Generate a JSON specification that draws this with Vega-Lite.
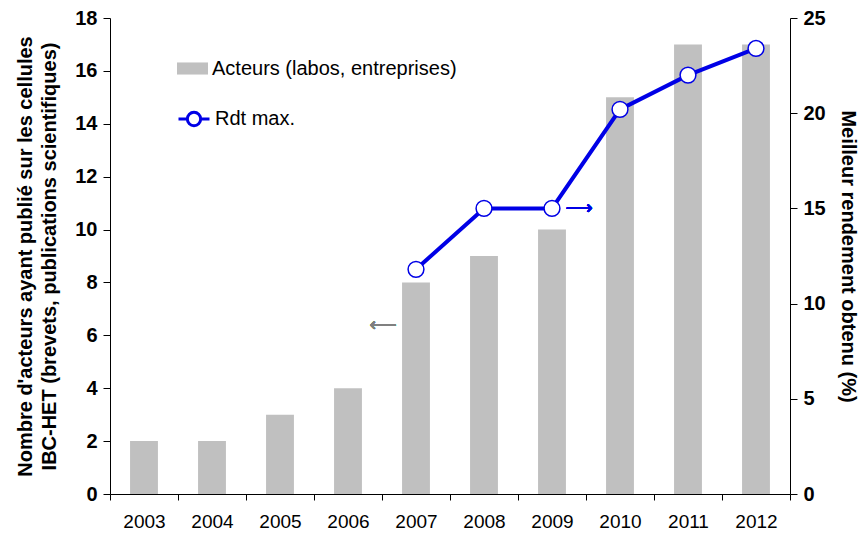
{
  "$schema": "https://vega.github.io/schema/vega-lite/v6.json",
  "width": 680,
  "height": 476,
  "autosize": {"type": "none"},
  "padding": {"left": 110, "top": 18, "right": 71, "bottom": 39},
  "background": "white",
  "config": {
    "view": {"stroke": null},
    "font": "Liberation Sans",
    "axis": {"domainColor": "black", "tickColor": "black", "labelColor": "black", "titleColor": "black", "grid": false}
  },
  "data": {
    "values": [
      {"year": "2003", "acteurs": 2, "rdt": null},
      {"year": "2004", "acteurs": 2, "rdt": null},
      {"year": "2005", "acteurs": 3, "rdt": null},
      {"year": "2006", "acteurs": 4, "rdt": null},
      {"year": "2007", "acteurs": 8, "rdt": 11.8},
      {"year": "2008", "acteurs": 9, "rdt": 15},
      {"year": "2009", "acteurs": 10, "rdt": 15},
      {"year": "2010", "acteurs": 15, "rdt": 20.2},
      {"year": "2011", "acteurs": 17, "rdt": 22},
      {"year": "2012", "acteurs": 17, "rdt": 23.4}
    ]
  },
  "encoding": {
    "x": {
      "field": "year", "type": "ordinal",
      "scale": {"paddingInner": 0, "paddingOuter": 0},
      "axis": {"title": null, "labelAngle": 0, "labelFontSize": 19, "labelPadding": 12, "tickBand": "extent", "tickSize": 6, "domainWidth": 1}
    }
  },
  "layer": [
    {
      "layer": [
        {
          "mark": {"type": "bar", "width": {"band": 0.41}},
          "encoding": {
            "y": {
              "field": "acteurs", "type": "quantitative",
              "scale": {"domain": [0, 18], "nice": false},
              "axis": {
                "title": ["Nombre d'acteurs ayant publié sur les cellules", "IBC-HET (brevets, publications scientifiques)"],
                "titleFontSize": 20, "titleFontWeight": "bold", "titleLineHeight": 24, "titlePadding": 15,
                "labelFontSize": 20, "labelFontWeight": "bold", "values": [0, 2, 4, 6, 8, 10, 12, 14, 16, 18],
                "tickSize": 7, "labelPadding": 6
              }
            },
            "fill": {
              "datum": "Acteurs (labos, entreprises)",
              "scale": {"range": ["#c0c0c0"]},
              "legend": {
                "title": null, "orient": "none", "legendX": 67, "legendY": 35, "padding": 0,
                "symbolType": "M-1,-0.39H1V0.39H-1Z", "symbolSize": 961, "symbolStrokeWidth": 0,
                "labelFontSize": 20, "labelColor": "black", "labelOffset": 4, "labelLimit": 400
              }
            }
          }
        },
        {
          "mark": {"type": "text", "text": "⟵", "font": "DejaVu Sans", "fontSize": 19, "color": "#808080", "dx": -33},
          "encoding": {"x": {"datum": "2007"}, "y": {"datum": 6.4}}
        }
      ]
    },
    {
      "layer": [
        {
          "mark": {"type": "line", "strokeWidth": 4},
          "encoding": {
            "y": {
              "field": "rdt", "type": "quantitative",
              "scale": {"domain": [0, 25], "nice": false},
              "axis": {
                "orient": "right",
                "title": "Meilleur rendement obtenu (%)",
                "titleFontSize": 20, "titleFontWeight": "bold", "titlePadding": 12,
                "labelFontSize": 20, "labelFontWeight": "bold", "values": [0, 5, 10, 15, 20, 25],
                "tickSize": 7, "labelPadding": 6
              }
            },
            "stroke": {
              "datum": "Rdt max.",
              "scale": {"range": ["#0000e6"]},
              "legend": {
                "title": null, "orient": "none", "legendX": 67, "legendY": 84, "padding": 0,
                "symbolType": "M-1,0H-0.43M0.43,0H1M-0.43,0A0.43,0.43,0,1,0,0.43,0A0.43,0.43,0,1,0,-0.43,0",
                "symbolSize": 961, "symbolStrokeWidth": 3, "symbolFillColor": "white",
                "labelFontSize": 20, "labelColor": "black", "labelOffset": 4, "labelLimit": 400
              }
            }
          }
        },
        {
          "mark": {"type": "point", "filled": true, "fill": "white", "stroke": "#0000e6", "strokeWidth": 1.5, "size": 250, "opacity": 1},
          "encoding": {"y": {"field": "rdt", "type": "quantitative"}}
        },
        {
          "mark": {"type": "text", "text": "⟶", "font": "DejaVu Sans", "fontSize": 19, "color": "#0000e6", "dx": 27},
          "encoding": {"x": {"datum": "2009"}, "y": {"datum": 15}}
        }
      ]
    }
  ],
  "resolve": {"scale": {"y": "independent"}}
}
